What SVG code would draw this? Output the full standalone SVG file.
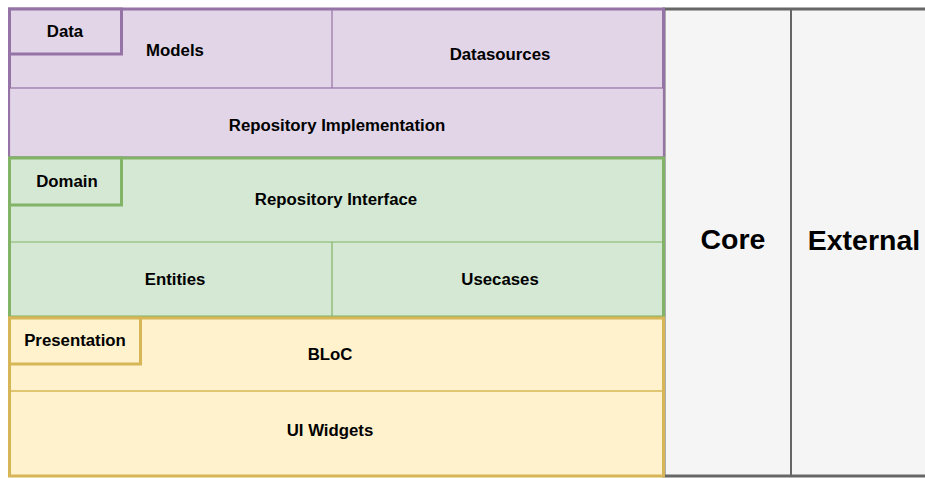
<svg xmlns="http://www.w3.org/2000/svg" width="925" height="478" viewBox="0 0 925 478">
<style>
text{font-family:"Liberation Sans",Arial,sans-serif;font-weight:bold;fill:#000;text-anchor:middle;dominant-baseline:central}
.s{font-size:16.8px}
.b{font-size:28.5px}
.pu{fill:#e1d5e7;stroke:#9673a6}
.gr{fill:#d5e8d4;stroke:#82b366}
.ye{fill:#fff2cc;stroke:#d6b656}
.gy{fill:#f5f5f5;stroke:#666666}
.thin{stroke-width:1.2}
.thick{stroke-width:3}
</style>
<rect width="925" height="478" fill="#ffffff"/>
<g id="core-external">
<rect class="gy thick" x="664" y="9" width="270" height="467"/>
<line x1="791" y1="9" x2="791" y2="476" stroke="#666666" stroke-width="2"/>
<text class="b" x="733" y="239">Core</text>
<text class="b" x="864" y="240">External</text>
</g>
<g id="data">
<rect class="pu thick" x="9.5" y="9" width="654" height="149"/>
<rect class="pu thin" x="9.5" y="88" width="654" height="69"/>
<line x1="332" y1="9" x2="332" y2="88" stroke="#9673a6" stroke-width="1.2"/>
<text class="s" x="175" y="50">Models</text>
<text class="s" x="500" y="54">Datasources</text>
<text class="s" x="337" y="125">Repository Implementation</text>
<rect class="pu thick" x="9.5" y="9" width="112" height="45"/>
<text class="s" x="65" y="31">Data</text>
</g>
<g id="domain">
<rect class="gr thick" x="9.5" y="158" width="654" height="159"/>
<line x1="9.5" y1="242" x2="663" y2="242" stroke="#82b366" stroke-width="1.2"/>
<line x1="332" y1="242" x2="332" y2="317" stroke="#82b366" stroke-width="1.2"/>
<text class="s" x="336" y="199">Repository Interface</text>
<text class="s" x="175" y="279">Entities</text>
<text class="s" x="500" y="279">Usecases</text>
<rect class="gr thick" x="9.5" y="158" width="112" height="47"/>
<text class="s" x="67" y="181">Domain</text>
</g>
<g id="presentation">
<rect class="ye thick" x="9.5" y="318" width="654" height="158"/>
<line x1="9.5" y1="391" x2="663" y2="391" stroke="#d6b656" stroke-width="1.5"/>
<text class="s" x="330" y="354">BLoC</text>
<text class="s" x="330" y="430">UI Widgets</text>
<rect class="ye thick" x="9.5" y="318" width="131" height="46"/>
<text class="s" x="75" y="340">Presentation</text>
</g>
<g id="connectors"></g>
</svg>
